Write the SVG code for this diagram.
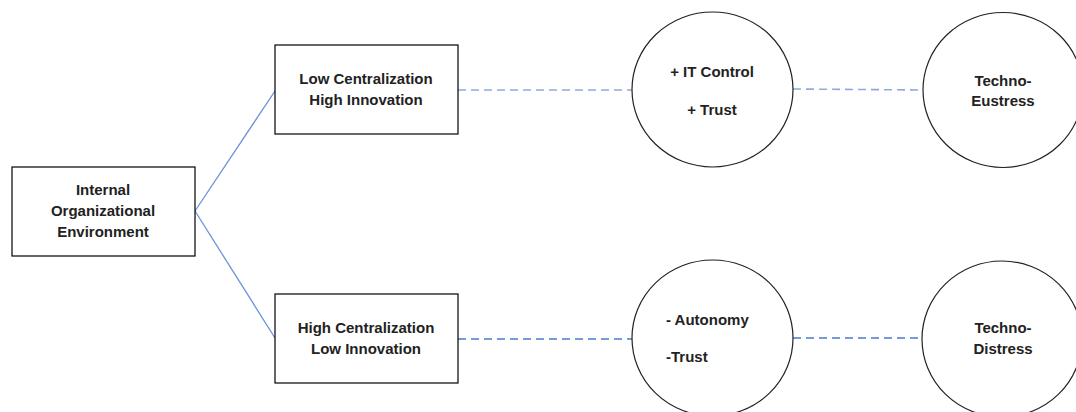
<svg xmlns="http://www.w3.org/2000/svg" width="1076" height="412" viewBox="0 0 1076 412">
<style>
.box{fill:#fff;stroke:#000;stroke-width:1.2}
.circ{fill:#fff;stroke:#222;stroke-width:1.2}
.t{font-family:"Liberation Sans",Arial,sans-serif;font-weight:bold;font-size:15px;fill:#222}
.c{text-anchor:middle}
.solid{stroke:#6a93d8;stroke-width:1.3;fill:none}
.dashA{stroke:#8eaadc;stroke-width:1.6;stroke-dasharray:8,5;fill:none}
.dashB{stroke:#4a7bd0;stroke-width:1.3;stroke-dasharray:8,5;fill:none}
</style>
<rect width="1076" height="412" fill="#fff"/>
<g id="connectors">
<line class="solid" x1="195" y1="211" x2="275" y2="91"/>
<line class="solid" x1="195" y1="211" x2="275" y2="338"/>
<line class="dashA" x1="458" y1="90" x2="632" y2="90"/>
<line class="dashA" x1="793" y1="89" x2="923" y2="90"/>
<line class="dashB" x1="458" y1="339" x2="632" y2="339"/>
<line class="dashB" x1="793" y1="338" x2="922" y2="338"/>
</g>
<g id="internal">
<rect class="box" x="12" y="167" width="183" height="89"/>
<text class="t c" x="103" y="195">Internal</text>
<text class="t c" x="103" y="216">Organizational</text>
<text class="t c" x="103" y="237">Environment</text>
</g>
<g id="lowcent">
<rect class="box" x="275" y="45" width="183" height="89"/>
<text class="t c" x="366" y="84">Low Centralization</text>
<text class="t c" x="366" y="105">High Innovation</text>
</g>
<g id="highcent">
<rect class="box" x="275" y="294" width="183" height="89"/>
<text class="t c" x="366" y="333">High Centralization</text>
<text class="t c" x="366" y="354">Low Innovation</text>
</g>
<g id="itcontrol">
<ellipse class="circ" cx="712.5" cy="89.5" rx="80.5" ry="77.5"/>
<text class="t c" x="712" y="77">+ IT Control</text>
<text class="t c" x="712" y="115">+ Trust</text>
</g>
<g id="eustress">
<ellipse class="circ" cx="1003" cy="90" rx="80" ry="77.5"/>
<text class="t c" x="1003" y="86">Techno-</text>
<text class="t c" x="1003" y="106">Eustress</text>
</g>
<g id="autonomy">
<ellipse class="circ" cx="712.5" cy="338" rx="80.5" ry="78"/>
<text class="t" x="666" y="325">- Autonomy</text>
<text class="t" x="666" y="362">-Trust</text>
</g>
<g id="distress">
<ellipse class="circ" cx="1002" cy="339" rx="80" ry="78"/>
<text class="t c" x="1003" y="333">Techno-</text>
<text class="t c" x="1003" y="354">Distress</text>
</g>
</svg>
